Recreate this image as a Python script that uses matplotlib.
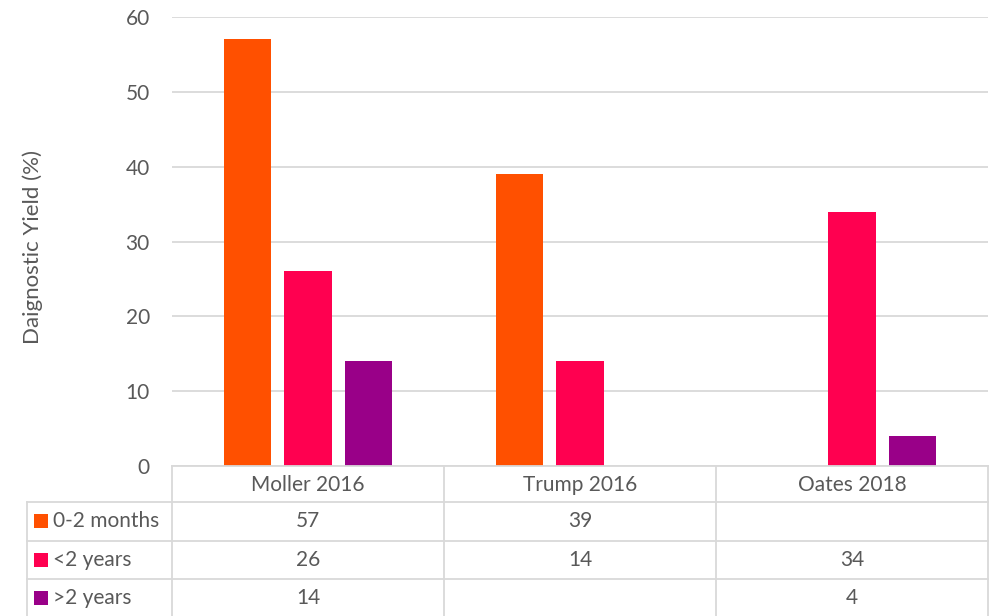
"""Diagnostic yield bar chart with an Excel-style data table."""

import matplotlib.pyplot as plt
import matplotlib.transforms as mtransforms
from matplotlib.patches import Rectangle

studies = ["Moller 2016", "Trump 2016", "Oates 2018"]
series_names = ["0-2 months", "<2 years", ">2 years"]
months_0_2 = [57, 39, None]
under_2_years = [26, 14, 34]
over_2_years = [14, None, 4]
series_values = [months_0_2, under_2_years, over_2_years]
colors = ["#FF5000", "#FF0050", "#990088"]
yticks = [0, 10, 20, 30, 40, 50, 60]

W, H = 995, 616
text_color = "#595959"
line_color = "#D9D9D9"
fs = 15
plt.rcParams["font.family"] = ["Lato", "DejaVu Sans"]

fig = plt.figure(figsize=(W / 100, H / 100), dpi=100)
left, right, top, bottom = 172, 988, 17, 466
ax = fig.add_axes([left / W, 1 - bottom / H, (right - left) / W, (bottom - top) / H])

bar_width = 0.173
offsets = [-0.221, 0.0, 0.221]
for values, off, color in zip(series_values, offsets, colors):
    for i, v in enumerate(values):
        if v is not None:
            ax.bar(i + off, v, width=bar_width, color=color, zorder=3)

ax.set_xlim(-0.5, len(studies) - 0.5)
ax.set_ylim(0, 60)
ax.set_yticks(yticks)
ax.set_xticks([])
ax.tick_params(axis="y", length=0, pad=16, labelsize=fs, labelcolor=text_color)
ax.grid(axis="y", color=line_color, linewidth=1.3, zorder=0)
for side in ["left", "right", "top", "bottom"]:
    ax.spines[side].set_visible(False)
ax.set_ylabel("Daignostic Yield (%)", fontsize=fs + 1, color=text_color)
ax.yaxis.set_label_coords((43 - left) / (right - left), 0.488)

# data table below the axis, positions in pixels from the top-left corner
to_fig = mtransforms.Affine2D().scale(1 / W, -1 / H).translate(0, 1) + fig.transFigure

row_lines = [466, 502, 541, 579]
row_bottom = 617
lw = 1.3
for y in row_lines:
    x0 = left if y == 466 else 27
    fig.add_artist(plt.Line2D([x0, right], [y, y], transform=to_fig, color=line_color, lw=lw))
for x in [27, 172, 444, 716, 988]:
    y0 = 502 if x == 27 else 466
    fig.add_artist(plt.Line2D([x, x], [y0, row_bottom], transform=to_fig, color=line_color, lw=lw))

col_centers = [308, 580, 852]
for cx, name in zip(col_centers, studies):
    fig.text(cx, 485, name, transform=to_fig, ha="center", va="center", fontsize=fs, color=text_color)

row_centers = [521, 560, 598]
for cy, name, values, color in zip(row_centers, series_names, series_values, colors):
    fig.add_artist(Rectangle((34, cy - 7), 14, 14, transform=to_fig, color=color, lw=0))
    fig.text(53, cy, name, transform=to_fig, ha="left", va="center", fontsize=fs, color=text_color)
    for cx, v in zip(col_centers, values):
        if v is not None:
            fig.text(cx, cy, str(v), transform=to_fig, ha="center", va="center", fontsize=fs, color=text_color)

fig.savefig("out.png", dpi=100)
